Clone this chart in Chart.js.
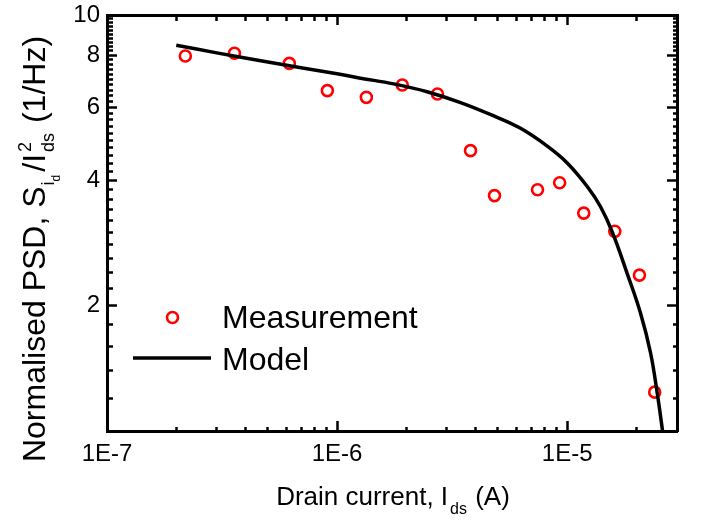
<!DOCTYPE html>
<html>
<head>
<meta charset="utf-8">
<script src="https://cdn.jsdelivr.net/npm/chart.js@4"></script>
<style>
html,body{margin:0;padding:0;background:#fff;}
#c{display:block;}
</style>
</head>
<body>
<canvas id="c" width="708" height="522"></canvas>
<script>
// ---- data ----
const measX = [2.19e-7, 3.58e-7, 6.2e-7, 9.07e-7, 1.34e-6, 1.92e-6, 2.73e-6, 3.8e-6, 4.83e-6, 7.43e-6, 9.27e-6, 1.18e-5, 1.61e-5, 2.06e-5, 2.40e-5];
const measY = [7.97, 8.09, 7.65, 6.58, 6.34, 6.79, 6.46, 4.72, 3.68, 3.80, 3.95, 3.34, 3.02, 2.37, 1.24];
const modelX = [2.0e-7, 3.0e-7, 5.0e-7, 1.0e-6, 1.263e-6, 1.762e-6, 2.46e-6, 3.44e-6, 4.80e-6, 6.27e-6, 8.19e-6, 1.0e-5, 1.222e-5, 1.396e-5, 1.569e-5, 1.823e-5, 2.083e-5, 2.303e-5, 2.463e-5, 2.597e-5];
const modelY = [8.46, 8.11, 7.71, 7.22, 7.05, 6.83, 6.54, 6.16, 5.72, 5.34, 4.84, 4.41, 3.87, 3.46, 3.01, 2.39, 1.92, 1.54, 1.23, 1.0];
const xTickValues = [1e-7, 1e-6, 1e-5];
const xTickLabels = ['1E-7', '1E-6', '1E-5'];
const yTickValues = [2, 4, 6, 8, 10];
const yTickLabels = ['2', '4', '6', '8', '10'];
const seriesNames = ['Measurement', 'Model'];

const FONT = "'Liberation Sans', Arial, sans-serif";

// minor tick positions (axis decoration)
const xMinor = [];
for (let e = -7; e <= -5; e++) for (let m = 2; m <= 9; m++) { const v = m * Math.pow(10, e); if (v <= 3e-5) xMinor.push(v); }
const yMinor = [];
for (let k = 6; k <= 49; k++) { if (k % 10 !== 0) yMinor.push(k / 5); }

const xAll = xTickValues.concat(xMinor).sort((a, b) => a - b);
const yAll = yTickValues.concat(yMinor).sort((a, b) => a - b);
const isMajorX = v => xTickValues.some(t => Math.abs(t - v) / t < 1e-6);
const isMajorY = v => yTickValues.some(t => Math.abs(t - v) < 1e-6);

// inner ticks: length 10 (major) or 6 (minor) via dash
// fromAxis: tick line starts at the axis line
const dashFor = (major, fromAxis) => major ? [] : (fromAxis ? [6, 100] : [0, 4, 6, 100]);

function gridOpts(isMajor, fromAxis) {
  return {
    display: true,
    drawOnChartArea: false,
    drawTicks: true,
    tickLength: -10,
    tickColor: '#000000',
    tickWidth: 2.5,
    tickBorderDash: (c) => dashFor(c.tick && isMajor(c.tick.value), fromAxis)
  };
}
const borderOpts = {display: true, width: 3, color: '#000000'};

function drawRuns(ctx, runs, cx, by) {
  let w = 0;
  runs.forEach(r => { ctx.font = r.s + 'px ' + FONT; r.w = ctx.measureText(r.t).width; if (!r.stack) w += r.w + (r.gap || 0); });
  let xx = cx - w / 2, lastX = xx;
  runs.forEach(r => {
    ctx.font = r.s + 'px ' + FONT;
    if (r.stack) { ctx.fillText(r.t, lastX, by + r.dy); return; }
    xx += (r.gap || 0);
    lastX = xx;
    ctx.fillText(r.t, xx, by + (r.dy || 0));
    xx += r.w;
  });
}

const decor = {
  id: 'decor',
  afterDraw(chart) {
    const ctx = chart.ctx;
    ctx.save();
    // legend inside the plot
    const ds0 = chart.data.datasets[0], ds1 = chart.data.datasets[1];
    ctx.beginPath();
    ctx.lineWidth = ds0.borderWidth;
    ctx.strokeStyle = ds0.borderColor;
    ctx.arc(172.5, 317.5, ds0.pointRadius, 0, Math.PI * 2);
    ctx.stroke();
    ctx.beginPath();
    ctx.lineWidth = ds1.borderWidth;
    ctx.strokeStyle = ds1.borderColor;
    ctx.moveTo(133, 358); ctx.lineTo(211, 358);
    ctx.stroke();
    ctx.fillStyle = '#000';
    ctx.font = '32px ' + FONT;
    ctx.textBaseline = 'alphabetic';
    ctx.textAlign = 'left';
    ctx.fillText(ds0.label, 222, 328);
    ctx.fillText(ds1.label, 222, 370);

    // x axis title
    drawRuns(ctx, [
      {t: 'Drain current, I', s: 26},
      {t: 'ds', s: 16, dy: 9, gap: 2},
      {t: ' (A)', s: 26, gap: 1}
    ], 393, 505);

    // y axis title (rotated)
    ctx.translate(45, 249);
    ctx.rotate(-Math.PI / 2);
    drawRuns(ctx, [
      {t: 'Normalised PSD, S', s: 32},
      {t: 'i', s: 18, dy: 9, gap: 1},
      {t: 'd', s: 12, dy: 15},
      {t: '/I', s: 32, gap: 3},
      {t: '2', s: 18, dy: -14, gap: 2},
      {t: 'ds', s: 18, dy: 9, stack: true},
      {t: ' (1/Hz)', s: 32, gap: 10}
    ], 0, 0);
    ctx.restore();
  }
};

new Chart(document.getElementById('c'), {
  type: 'scatter',
  data: {
    datasets: [
      {
        label: seriesNames[0],
        data: measX.map((v, i) => ({x: v, y: measY[i]})),
        showLine: false,
        pointRadius: 5.5,
        pointHoverRadius: 5.5,
        borderWidth: 2.6,
        borderColor: '#ff0000',
        backgroundColor: 'rgba(0,0,0,0)',
        pointBorderColor: '#ff0000',
        pointBackgroundColor: 'rgba(0,0,0,0)',
        order: 2
      },
      {
        label: seriesNames[1],
        data: modelX.map((v, i) => ({x: v, y: modelY[i]})),
        showLine: true,
        pointRadius: 0,
        borderWidth: 3.5,
        borderColor: '#000000',
        backgroundColor: '#000000',
        tension: 0.4,
        order: 1
      }
    ]
  },
  options: {
    responsive: false,
    animation: false,
    devicePixelRatio: 1,
    layout: {padding: {top: 15, right: 31, left: 0, bottom: 0}},
    plugins: {legend: {display: false}, tooltip: {enabled: false}},
    scales: {
      x: {
        type: 'logarithmic',
        position: 'bottom',
        min: 1e-7, max: 3e-5,
        grid: gridOpts(isMajorX, true),
        border: borderOpts,
        afterBuildTicks: s => { s.ticks = xAll.map(v => ({value: v, major: isMajorX(v)})); },
        afterFit: s => { s.height = 91; s.paddingLeft = 0; s.paddingRight = 0; },
        ticks: {
          autoSkip: false, maxRotation: 0, minRotation: 0, padding: 19,
          color: '#000', font: {family: FONT, size: 24},
          callback: (v) => { const i = xTickValues.findIndex(t => Math.abs(t - v) / t < 1e-6); return i >= 0 ? xTickLabels[i] : ''; }
        }
      },
      x2: {
        type: 'logarithmic',
        position: 'top',
        axis: 'x',
        min: 1e-7, max: 3e-5,
        grid: gridOpts(isMajorX, false),
        border: borderOpts,
        afterBuildTicks: s => { s.ticks = xAll.map(v => ({value: v, major: isMajorX(v)})); },
        afterFit: s => { s.height = 0; s.paddingLeft = 0; s.paddingRight = 0; },
        ticks: {display: false, autoSkip: false}
      },
      y: {
        type: 'logarithmic',
        position: 'left',
        min: 1, max: 10,
        grid: gridOpts(isMajorY, false),
        border: borderOpts,
        afterBuildTicks: s => { s.ticks = yAll.map(v => ({value: v, major: isMajorY(v)})); },
        afterFit: s => { s.width = 107; s.paddingTop = 0; s.paddingBottom = 0; },
        ticks: {
          autoSkip: false, padding: 17,
          color: '#000', font: {family: FONT, size: 24},
          callback: (v) => { const i = yTickValues.findIndex(t => Math.abs(t - v) < 1e-6); return i >= 0 ? yTickLabels[i] : ''; }
        }
      },
      y2: {
        type: 'logarithmic',
        position: 'right',
        axis: 'y',
        min: 1, max: 10,
        grid: gridOpts(isMajorY, true),
        border: borderOpts,
        afterBuildTicks: s => { s.ticks = yAll.map(v => ({value: v, major: isMajorY(v)})); },
        afterFit: s => { s.width = 0; s.paddingTop = 0; s.paddingBottom = 0; },
        ticks: {display: false, autoSkip: false}
      }
    }
  },
  plugins: [decor]
});
</script>
</body>
</html>
